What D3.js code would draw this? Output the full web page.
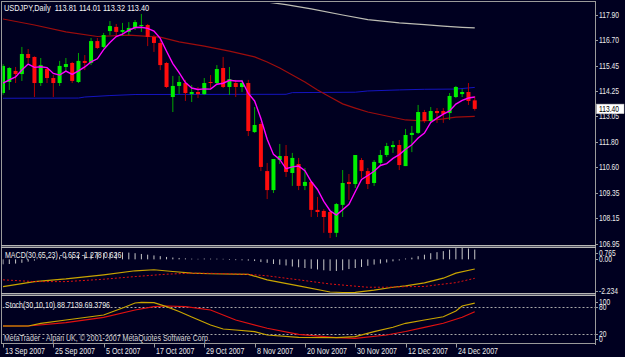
<!DOCTYPE html>
<html>
<head>
<meta charset="utf-8">
<script src="https://cdn.jsdelivr.net/npm/d3@7"></script>
<style>
  html, body { margin: 0; padding: 0; background: #000020; }
  svg { display: block; }
  text { font-family: "Liberation Sans", Arial, sans-serif; font-size: 8.6px; white-space: pre; }
  text.ax { font-size: 8.2px; }
</style>
</head>
<body>
<svg id="chart" width="625" height="357"></svg>
<script>
// USDJPY daily, 13 Sep 2007 .. 27 Dec 2007 — one entry per bar (index = bar number)
const open = [114.16,114.69,115.22,115.07,116.03,115.89,114.64,115.31,114.88,114.64,115.41,115.60,114.69,115.70,115.60,116.65,116.37,117.13,117.33,117.09,117.09,117.28,117.40,117.42,116.85,116.56,115.60,113.97,114.50,114.64,114.11,114.21,114.11,114.69,114.64,115.36,114.45,114.64,114.45,114.64,112.29,112.68,110.42,109.51,110.95,111.14,110.33,110.76,109.71,109.90,108.56,108.51,108.46,107.46,108.80,109.90,109.80,110.95,110.42,109.85,110.81,111.19,111.57,111.67,110.66,112.15,112.25,113.25,112.82,113.30,113.30,113.20,113.97,114.11,114.21,113.81];
const high = [115.55,115.40,115.41,116.37,116.27,115.92,115.84,115.36,115.02,115.70,115.84,115.65,116.08,115.98,116.80,116.80,117.04,117.61,117.47,117.52,117.56,117.66,117.95,117.47,116.94,116.70,115.65,114.98,114.98,114.79,114.55,114.45,114.88,115.02,115.50,115.89,115.41,114.79,114.79,114.79,113.49,112.77,110.81,111.00,111.72,111.67,111.29,111.05,110.57,109.95,109.18,108.60,108.56,108.89,110.47,110.28,111.19,111.05,110.57,110.95,111.43,111.77,111.86,111.91,112.44,112.58,113.59,113.35,113.49,113.44,113.44,114.16,114.50,114.35,114.64,114.01];
const low = [114.07,114.31,114.64,114.74,115.60,113.97,114.50,114.64,113.97,114.50,115.17,114.64,114.64,115.26,115.50,116.27,116.32,116.94,116.85,116.89,116.94,117.18,117.09,116.41,116.13,115.26,114.40,113.25,114.11,113.78,113.73,113.92,114.07,114.40,114.55,114.40,114.07,113.97,114.21,112.10,112.25,110.42,109.08,109.37,110.76,110.14,109.71,109.51,109.51,108.22,108.22,107.46,107.21,107.26,108.22,109.04,109.61,110.09,109.56,109.71,110.71,111.10,111.29,110.47,110.66,111.33,112.20,112.73,112.73,112.73,112.73,112.87,113.92,113.97,113.59,113.32];
const close = [115.46,115.36,115.07,116.03,115.84,114.64,115.50,114.88,114.64,115.46,115.55,114.74,115.70,115.60,116.65,116.32,116.94,117.37,117.09,117.18,117.28,117.56,117.42,116.85,116.56,115.50,114.45,114.50,114.69,114.16,114.21,114.11,114.64,114.64,115.31,114.45,114.83,114.45,114.64,112.34,112.63,110.62,109.51,111.00,111.14,110.38,111.05,109.71,109.90,108.56,108.46,108.22,107.46,108.84,109.85,109.80,111.19,110.42,109.80,110.86,111.19,111.62,111.67,110.71,112.15,112.25,113.25,112.82,113.30,113.20,113.16,114.02,114.45,114.21,113.78,113.40];

// fast MA (magenta), one value per bar
const maFast = [114.64,114.79,114.93,115.26,115.55,115.39,115.42,115.38,115.10,115.02,115.21,115.05,115.22,115.41,115.65,115.80,116.24,116.58,116.87,116.98,117.17,117.30,117.31,117.26,117.13,116.78,116.16,115.57,115.14,114.66,114.40,114.33,114.36,114.35,114.58,114.63,114.77,114.74,114.74,114.14,113.78,112.94,111.95,111.22,110.98,110.53,110.62,110.66,110.44,109.92,109.54,108.97,108.52,108.31,108.57,108.83,109.43,110.02,110.21,110.41,110.69,110.78,111.03,111.21,111.47,111.68,112.01,112.24,112.75,112.96,113.15,113.30,113.63,113.81,113.92,113.97];

// slow MAs, read at a few bars
const maRedBar = [0,5,10,15,20,25,28,32,36,40,42,44,46,48,50,52,54,56,58,61,64,67,70,72,75];
const maRedVal = [117.71,117.42,117.09,116.87,116.94,116.84,116.61,116.41,116.17,115.89,115.65,115.36,115.02,114.69,114.31,113.97,113.64,113.44,113.25,113.06,112.87,112.82,112.92,113.01,113.04];
const maBlueBar = [0,12,13,17,21,45,46,56,58,63,67,72,75];
const maBlueVal = [113.91,113.92,113.97,114.04,114.09,114.10,114.18,114.20,114.26,114.31,114.34,114.35,114.43];
const maGrayBar = [30,36,42,45,49,54,58,63,67,70,73,75];
const maGrayVal = [118.95,118.75,118.52,118.40,118.19,117.90,117.68,117.52,117.44,117.37,117.31,117.28];

// MACD(30,65,23): histogram per bar, main + signal read at a few bars
const macdHist = [-0.30,-0.28,-0.25,-0.20,-0.12,-0.05,0.02,0.06,0.10,0.14,0.18,0.22,0.26,0.30,0.34,0.37,0.40,0.42,0.43,0.44,0.42,0.38,0.33,0.28,0.23,0.18,0.13,0.09,0.06,0.03,0.01,0.00,0.02,0.01,0.01,0.00,-0.01,-0.02,-0.03,-0.05,-0.08,-0.15,-0.20,-0.28,-0.33,-0.38,-0.45,-0.50,-0.55,-0.60,-0.65,-0.70,-0.74,-0.75,-0.70,-0.62,-0.55,-0.48,-0.40,-0.32,-0.25,-0.18,-0.10,-0.04,0.02,0.08,0.18,0.28,0.38,0.45,0.52,0.62,0.72,0.765,0.70,0.626];
const macdBar = [0,5,10,16,21,24,27,30,33,39,42,47,52,54,56,59,62,64,67,70,72,75];
const macdVal = [-1.84,-1.50,-1.32,-1.04,-0.77,-0.70,-0.82,-0.93,-0.97,-1.01,-1.38,-1.79,-2.20,-2.234,-2.22,-2.07,-1.88,-1.79,-1.59,-1.27,-0.93,-0.652];
const signalBar = [0,5,10,16,21,26,30,33,39,42,47,52,58,61,64,67,69,72,75];
const signalVal = [-1.38,-1.50,-1.50,-1.34,-1.16,-1.00,-0.93,-0.94,-1.01,-1.11,-1.38,-1.66,-1.88,-1.88,-1.84,-1.83,-1.72,-1.57,-1.278];

// Stoch(30,10,10)
const stochKBar = [0,4,6,10,16,19,21,22,24,26,28,30,33,35,37,40,42,47,53,56,59,62,64,67,70,72,73,75];
const stochKVal = [37.8,37.8,43.8,51.1,62.2,77.8,88.9,90.4,89.6,80.7,70.0,57.8,40.0,31.1,28.9,25.1,17.8,12.7,11.8,14.0,25.1,34.9,43.8,51.1,58.4,71.1,82.2,88.71];
const stochDBar = [0,4,10,16,21,24,26,29,33,37,42,47,53,56,61,64,67,70,73,75];
const stochDVal = [37.8,37.8,45.1,57.1,73.3,80.7,82.2,80.7,73.3,51.1,32.7,19.3,11.8,10.4,17.8,25.6,34.9,43.8,57.1,69.38];
const stochLevels = [80, 20];

// axes
const priceTicks = [117.90,116.70,115.45,114.25,113.05,111.80,110.60,109.35,108.15,106.95];
const macdTicks = [0.765,0.00,-2.234];
const stochTicks = [100,80,20,0];
const dateBar = [0,8,16,24,32,40,48,56,64,72];
const dateLabel = ["13 Sep 2007","25 Sep 2007","5 Oct 2007","17 Oct 2007","29 Oct 2007","8 Nov 2007","20 Nov 2007","30 Nov 2007","12 Dec 2007","24 Dec 2007"];
const lastPrice = 113.40;

const svg = d3.select("#chart");
const AX = 595;           // right price axis
const x = d3.scaleLinear().domain([0, 75]).range([3, 474.75]);
const yMain = d3.scaleLinear().domain([106.95, 117.90]).range([243.5, 15]);
const yMacd = d3.scaleLinear().domain([-2.234, 0.765]).range([292.5, 248]);
const yStoch = d3.scaleLinear().domain([0, 100]).range([343, 298]);

svg.append("rect").attr("width", 625).attr("height", 357).attr("fill", "#000020");

const defs = svg.append("defs");
const clip = (id, y0, y1) => defs.append("clipPath").attr("id", id)
  .append("rect").attr("x", 2.5).attr("y", y0).attr("width", AX - 2.5).attr("height", y1 - y0);
clip("c-main", 3, 245);
clip("c-macd", 248, 293.5);
clip("c-stoch", 296.5, 343);

const line = (y) => d3.line().x((d) => x(d[0])).y((d) => y(d[1]));
const drawLine = (g, y, bars, vals, color, w, dash) => g.append("path")
  .datum(d3.zip(bars, vals))
  .attr("fill", "none").attr("stroke", color).attr("stroke-width", w)
  .attr("stroke-dasharray", dash || null)
  .attr("d", line(y));

// --- main panel ---
const gMain = svg.append("g").attr("clip-path", "url(#c-main)");
drawLine(gMain, yMain, maGrayBar, maGrayVal, "#bdbdb4", 1.2);
drawLine(gMain, yMain, maBlueBar, maBlueVal, "#1414c0", 1);
drawLine(gMain, yMain, maRedBar, maRedVal, "#9c0c0c", 1.2);

const bars = d3.range(open.length);
const up = (i) => close[i] >= open[i];
gMain.append("g").selectAll("line").data(bars).join("line")
  .attr("x1", (i) => x(i)).attr("x2", (i) => x(i))
  .attr("y1", (i) => yMain(high[i])).attr("y2", (i) => yMain(low[i]))
  .attr("stroke", (i) => up(i) ? "#00a800" : "#b00000").attr("stroke-width", 1);
gMain.append("g").selectAll("rect").data(bars).join("rect")
  .attr("x", (i) => x(i) - 2).attr("width", 4)
  .attr("y", (i) => yMain(Math.max(open[i], close[i])))
  .attr("height", (i) => Math.max(1, Math.abs(yMain(open[i]) - yMain(close[i]))))
  .attr("fill", (i) => up(i) ? "#00f000" : "#ff0c0c");

gMain.append("path").datum(bars)
  .attr("fill", "none").attr("stroke", "#ff00ff").attr("stroke-width", 1.4)
  .attr("d", d3.line().x((i) => x(i)).y((i) => yMain(maFast[i])));

// --- MACD panel ---
const gMacd = svg.append("g").attr("clip-path", "url(#c-macd)");
gMacd.append("g").selectAll("line").data(bars).join("line")
  .attr("x1", (i) => x(i)).attr("x2", (i) => x(i))
  .attr("y1", yMacd(0))
  .attr("y2", (i) => yMacd(macdHist[i]) + (macdHist[i] >= 0 ? -0.5 : 0.5))
  .attr("stroke", "#c8c8c8").attr("stroke-width", 1);
drawLine(gMacd, yMacd, macdBar, macdVal, "#c8a400", 1.2);
drawLine(gMacd, yMacd, signalBar, signalVal, "#e01010", 1, "2,2");

// --- Stochastic panel ---
const gSto = svg.append("g").attr("clip-path", "url(#c-stoch)");
gSto.selectAll("line.lvl").data(stochLevels).join("line").attr("class", "lvl")
  .attr("x1", 2.5).attr("x2", AX).attr("y1", (d) => Math.round(yStoch(d)) + 0.5).attr("y2", (d) => Math.round(yStoch(d)) + 0.5)
  .attr("stroke", "#a8a8a8").attr("stroke-width", 1).attr("stroke-dasharray", "2,2");
drawLine(gSto, yStoch, stochDBar, stochDVal, "#e01010", 1.2);
drawLine(gSto, yStoch, stochKBar, stochKVal, "#c8a400", 1.2);

// --- frame ---
const frame = svg.append("g").attr("stroke", "#9a9a9a").attr("fill", "none");
frame.append("line").attr("x1", 1.5).attr("x2", 1.5).attr("y1", 1).attr("y2", 344);
frame.append("line").attr("x1", 1).attr("x2", AX).attr("y1", 1.5).attr("y2", 1.5);
frame.append("line").attr("x1", AX + 0.5).attr("x2", AX + 0.5).attr("y1", 1).attr("y2", 345);
frame.append("line").attr("x1", 1).attr("x2", AX + 1).attr("y1", 343.5).attr("y2", 343.5);
[245.5, 247.5, 293.5, 295.5].forEach((y) =>
  frame.append("line").attr("x1", 1).attr("x2", AX + 1).attr("y1", y).attr("y2", y).attr("stroke", "#b4b4b4"));
[246.5, 294.5].forEach((y) =>
  frame.append("line").attr("x1", 2).attr("x2", AX).attr("y1", y).attr("y2", y).attr("stroke", "#505060"));

// text squeezed a little, like the original Tahoma labels
const label = (px, py, str, fill, sx) => svg.append("text")
  .attr("transform", `translate(${px},${py}) scale(${sx || 0.82},1)`)
  .attr("fill", fill || "#ececec").text(str);

// right axis: ticks + labels, kept inside each panel
const axisLabels = (ticks, y, top, bot, fmt) => ticks.forEach((v) => {
  const yy = Math.min(Math.max(y(v), top), bot);
  svg.append("line").attr("x1", AX).attr("x2", AX + 3).attr("y1", Math.round(yy) + 0.5).attr("y2", Math.round(yy) + 0.5)
    .attr("stroke", "#9a9a9a");
  label(AX + 4, yy + 3, fmt(v)).attr("class", "ax");
});
axisLabels(priceTicks, yMain, 6, 243.5, (v) => v.toFixed(2));
axisLabels(macdTicks, yMacd, 253, 291, (v) => v === 0 ? "0.00" : String(v));
axisLabels(stochTicks, yStoch, 301.5, 339, (v) => String(v));

// last price box
const yl = yMain(lastPrice);
svg.append("rect").attr("x", AX + 1.5).attr("y", yl - 4.8).attr("width", 27.5).attr("height", 9.6)
  .attr("fill", "#ffffff").attr("stroke", "#c0c0c0").attr("stroke-width", 0.5);
label(AX + 4, yl + 3, lastPrice.toFixed(2), "#000000").attr("class", "ax");

// date axis
dateBar.forEach((b, k) => {
  const px = Math.round(x(b)) + 0.5;
  svg.append("line").attr("x1", px).attr("x2", px).attr("y1", 343).attr("y2", 347.5).attr("stroke", "#9a9a9a");
  label(px + 1.5, 353.5, dateLabel[k]);
});

// panel captions
label(4, 11, `USDJPY,Daily  ${open[75].toFixed(2)} ${high[75].toFixed(2)} ${low[75].toFixed(2)} ${close[75].toFixed(2)}`, "#f4f4f4", 0.86);
label(5, 258, `MACD(30,65,23) ${macdVal[macdVal.length - 1].toFixed(3)} ${signalVal[signalVal.length - 1].toFixed(3)} ${macdHist[macdHist.length - 1].toFixed(3)}`);
label(5, 308, `Stoch(30,10,10) 88.7139 69.3796`);
label(4, 340.5, "MetaTrader - Alpari UK, \u00a9 2001-2007 MetaQuotes Software Corp.", "#d8d8d8");
</script>
</body>
</html>
